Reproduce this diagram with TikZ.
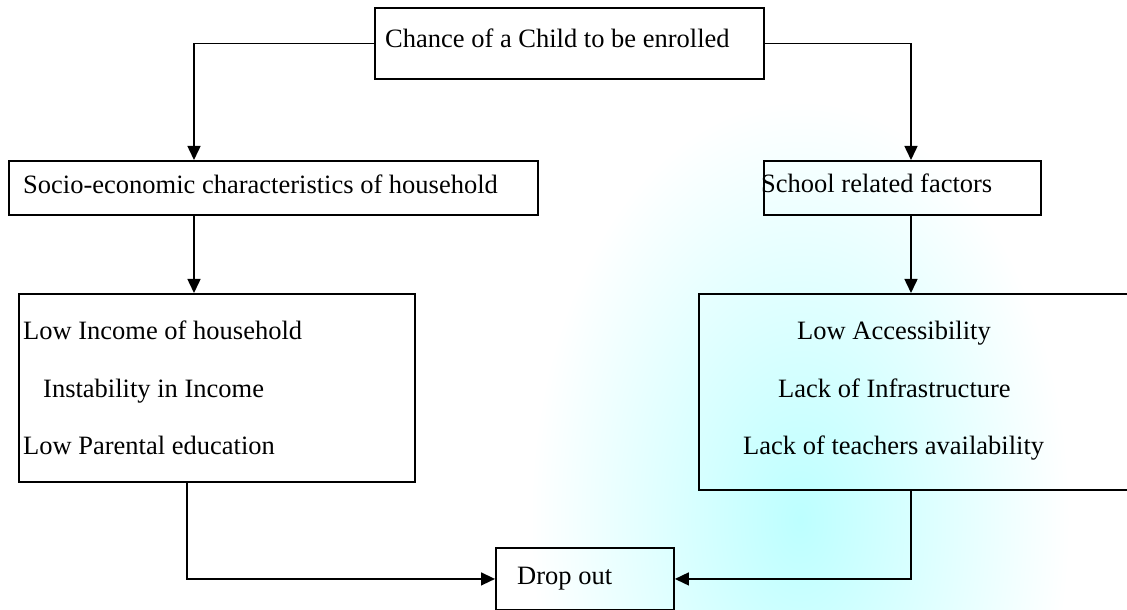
\documentclass[tikz,border=0pt]{standalone}
\usepackage{fontspec}
\setmainfont{Liberation Serif}
\usetikzlibrary{arrows.meta}
\begin{document}
\begin{tikzpicture}[x=1bp,y=-1bp,
  boxstyle/.style={draw=black, line width=1.9bp, rectangle, inner sep=0pt, anchor=north west},
  txt/.style={inner sep=0pt, anchor=base west, font=\fontsize{26.5bp}{32bp}\selectfont},
  arr/.style={line width=1.5bp, -{Triangle[length=14bp,width=13bp]}}]
\useasboundingbox (0,0) rectangle (1127,610);
% faint background watermark
\shade[inner color=cyan!26, outer color=white] (800,520) ellipse [x radius=270, y radius=420];
% boxes
\node[boxstyle, minimum width=389bp, minimum height=71bp] (top) at (374,7) {};
\node[boxstyle, minimum width=529bp, minimum height=54bp] (socio) at (8,160) {};
\node[boxstyle, minimum width=277bp, minimum height=54bp] (school) at (763,160) {};
\node[boxstyle, minimum width=396bp, minimum height=188bp] (lbox) at (18,293) {};
\node[boxstyle, minimum width=440bp, minimum height=196bp] (rbox) at (698,293) {};
\node[boxstyle, minimum width=178bp, minimum height=62bp] (drop) at (495,547) {};
% texts
\node[txt] (ttop) at (385,48) {Chance of a Child to be enrolled};
\node[txt] (tsocio) at (23,194) {Socio-economic characteristics of household};
\node[txt] (tschool) at (761,193) {School related factors};
\node[txt] (tl1) at (23,339) {Low Income of household};
\node[txt] (tl2) at (43,397) {Instability in Income};
\node[txt] (tl3) at (23,454) {Low Parental education};
\node[txt] (tr1) at (797,339) {Low Accessibility};
\node[txt] (tr2) at (778,397) {Lack of Infrastructure};
\node[txt] (tr3) at (743,454) {Lack of teachers availability};
\node[txt] (tdrop) at (517,584) {Drop out};
% connector columns
\coordinate (cl) at (194,0);
\coordinate (cr) at (911,0);
\coordinate (bl) at (187,0);
% connectors
\draw[arr] (top.west) -| (cl |- socio.north);
\draw[arr] (top.east) -| (cr |- school.north);
\draw[arr] (cl |- socio.south) -- (cl |- lbox.north);
\draw[arr] (cr |- school.south) -- (cr |- rbox.north);
\draw[arr] (bl |- lbox.south) |- (drop.west);
\draw[arr] (cr |- rbox.south) |- (drop.east);
\end{tikzpicture}
\end{document}
